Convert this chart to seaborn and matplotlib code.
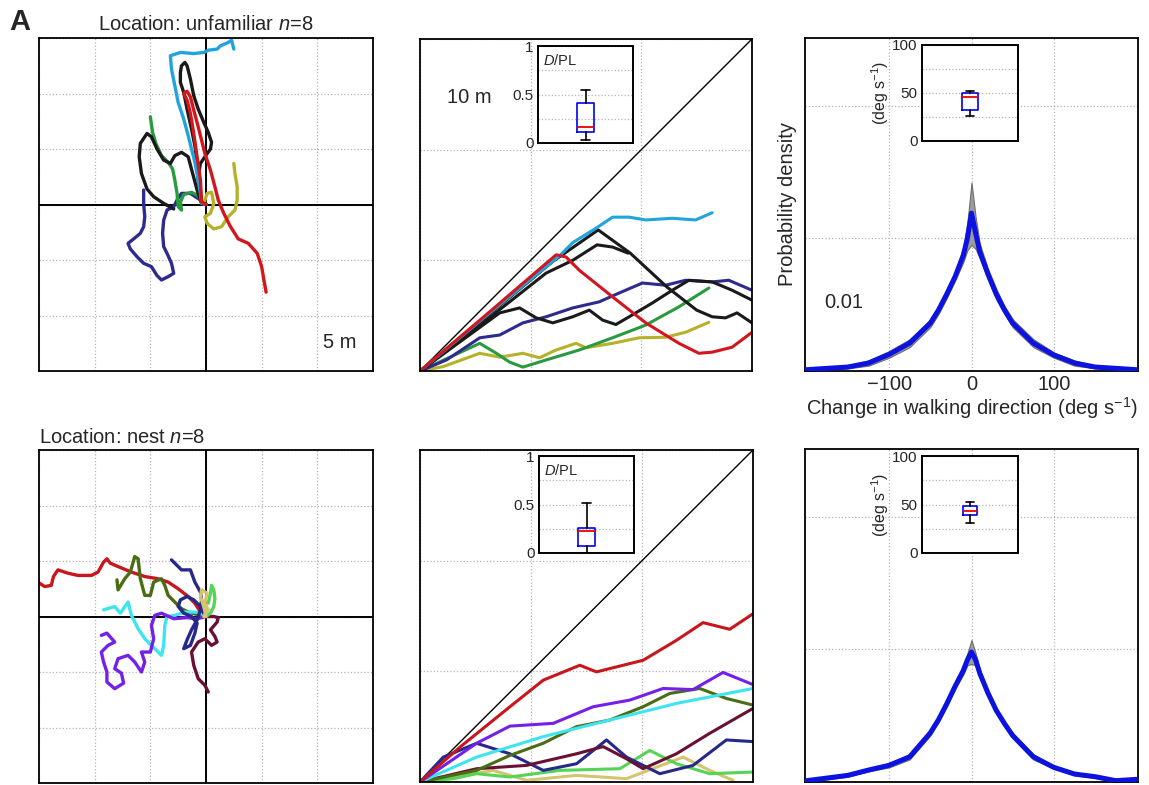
import numpy as np
import pandas as pd
import seaborn as sns
import matplotlib as mpl
import matplotlib.pyplot as plt

sns.set_style('white')
plt.rcParams['font.family'] = ['Liberation Sans', 'DejaVu Sans']
mpl.rcParams.update({'mathtext.fontset': 'custom',
                     'mathtext.rm': 'Liberation Sans',
                     'mathtext.it': 'Liberation Sans:italic',
                     'mathtext.bf': 'Liberation Sans:bold'})

# ---- trajectories, unfamiliar location (m) ----
unf_navy_x = [0, -0.5, -1.4, -2.2, -2.6, -2.9, -3.5, -3.8, -3.9, -3.8, -3.5, -3.1, -2.9, -3.4,
              -4.0, -4.4, -4.9, -5.6, -6.2, -6.8, -7.0, -6.5, -5.9, -5.6, -5.5, -5.6, -5.6]
unf_navy_y = [0, 0.4, 1.0, 1.0, 0.4, -0.2, -0.5, -1.4, -2.6, -3.8, -4.4, -5.3, -6.2, -6.5,
              -6.8, -6.4, -5.6, -5.3, -4.7, -4.0, -3.5, -3.1, -2.6, -2.0, -1.1, 0.1, 1.3]
unf_olive_x = [0, -0.2, 0.1, 0.5, 0.7, 0.4, -0.1, 0.1, 0.7, 1.4, 2.0, 2.6, 2.8, 2.8, 2.6, 2.5]
unf_olive_y = [0, 0.1, 1.0, 1.1, 0.1, -0.8, -1.1, -1.7, -2.2, -2.0, -1.1, -0.5, 0.4, 1.6, 2.8, 3.7]
unf_green_x = [0, -0.4, -0.7, -1.3, -2.0, -2.3, -2.2, -2.5, -2.6, -2.8, -3.0, -3.4, -4.0, -4.5, -4.8, -5.0]
unf_green_y = [0, 0.2, 0.8, 1.1, 0.9, 0.2, -0.5, -0.2, 1.0, 2.2, 3.2, 3.8, 4.4, 5.5, 6.5, 7.9]
unf_blackb_x = [0, -0.4, -0.8, -1.2, -1.6, -2.2, -2.8, -3.2, -3.8, -4.4, -4.9, -5.3, -5.9, -6.0,
                -5.8, -5.3, -4.7, -3.8, -2.9]
unf_blackb_y = [0, 0.1, 1.3, 2.8, 4.3, 4.7, 4.4, 3.7, 4.0, 5.0, 6.1, 6.4, 5.5, 4.3,
                2.8, 1.4, 0.7, 0.1, -0.4]
unf_blacka_x = [0, -0.4, -0.5, -0.7, -0.5, -0.1, 0.4, 0.5, 0.2, -0.2, -0.7, -1.1, -1.4, -1.7,
                -1.9, -2.2, -2.3, -2.3, -2.0, -1.7, -1.3, -1.0, -0.8, -0.7, -0.5]
unf_blacka_y = [0, 0.2, 1.3, 2.5, 3.7, 4.3, 5.0, 5.6, 6.5, 7.4, 8.6, 9.8, 11.3, 12.5,
                12.8, 12.5, 11.9, 11.0, 10.1, 8.6, 6.8, 5.3, 3.8, 2.2, 0.7]
unf_cyan_x = [0, -0.4, -0.5, -0.7, -1.0, -1.3, -1.6, -2.0, -2.5, -2.8, -3.1, -3.2, -2.3, -1.1,
              -0.2, 0.2, 1.0, 1.3, 2.0, 2.3, 2.5]
unf_cyan_y = [0, 0.1, 1.0, 2.2, 3.8, 5.0, 6.2, 7.7, 9.2, 10.7, 12.2, 13.4, 13.7, 13.6,
              13.7, 13.9, 14.0, 14.3, 14.6, 14.8, 14.0]
unf_red_x = [0, -0.4, -0.5, -0.8, -1.1, -1.4, -1.7, -2.0, -1.7, -1.4, -1.1, -0.7, -0.4, -0.1,
             0.4, 0.8, 1.1, 1.6, 2.2, 2.9, 3.8, 4.6, 5.0, 5.2, 5.4]
unf_red_y = [0, 0.2, 2.2, 4.3, 6.4, 8.2, 9.4, 10.0, 10.2, 9.7, 8.5, 7.0, 5.8, 4.6,
             3.1, 1.6, 0.4, -0.8, -2.0, -3.1, -3.5, -4.4, -5.6, -6.8, -7.9]

# ---- trajectories, nest location (m) ----
nest_red_x = [0, -0.5, -1.0, -1.6, -2.5, -3.4, -4.3, -5.5, -6.7, -7.9, -8.6, -8.9, -9.2, -9.7,
              -10.3, -11.5, -12.4, -13.3, -13.7, -13.9, -14.5, -15.1]
nest_red_y = [0, 0.4, 1.2, 1.8, 2.5, 3.1, 3.4, 3.6, 4.0, 4.5, 4.8, 5.2, 4.9, 4.0,
              3.7, 3.7, 3.9, 4.2, 3.6, 2.8, 2.7, 3.1]
nest_dgreen_x = [0, -0.5, -1.6, -2.2, -2.8, -3.4, -3.7, -4.0, -4.7, -5.0, -5.5, -5.9, -6.1, -6.4,
                 -6.8, -7.3, -7.9, -8.0]
nest_dgreen_y = [0, 0.1, 0.4, 0.7, 1.3, 1.9, 2.8, 3.4, 3.1, 1.9, 1.9, 3.4, 5.2, 5.4,
                 4.0, 3.4, 2.4, 3.3]
nest_cyan_x = [0, -0.5, -1.0, -1.9, -2.8, -3.5, -3.7, -3.8, -4.0, -4.9, -5.5, -6.1, -6.7, -7.0,
               -7.7, -8.2, -9.2]
nest_cyan_y = [0, 0.3, 0.4, 0.4, 0.1, 0.0, -0.8, -2.6, -3.5, -2.6, -2.0, -1.1, 0.1, 1.3,
               0.3, 0.9, 0.6]
nest_purple_x = [0, -0.8, -1.7, -2.9, -4.0, -4.6, -4.9, -4.7, -5.0, -5.8, -5.5, -5.8, -6.4, -7.0,
                 -7.9, -8.2, -7.6, -7.4, -8.2, -8.9, -8.9, -9.2, -9.4, -8.8, -8.2, -8.9, -9.4]
nest_purple_y = [0, -0.2, -0.1, -0.2, 0.3, 0.1, -0.8, -2.0, -3.2, -3.2, -4.1, -5.0, -4.1, -3.5,
                 -3.8, -4.7, -5.1, -6.0, -6.5, -5.9, -5.0, -4.1, -3.2, -2.6, -2.3, -1.5, -1.7]
nest_navy_x = [0, -0.2, -0.5, -1.1, -1.7, -2.3, -2.5, -2.0, -1.3, -0.8, -1.0, -1.4, -2.0, -1.7,
               -1.3, -0.8, -0.5, -0.4, -0.5, -1.0, -1.4, -2.2, -3.1]
nest_navy_y = [0, 0.3, 0.9, 1.5, 1.8, 1.5, 0.9, 0.3, 0.0, -0.6, -1.5, -2.6, -2.9, -2.1,
               -1.2, -0.3, 0.6, 1.5, 2.2, 3.1, 4.2, 4.2, 5.1]
nest_maroon_x = [0, 0.7, 1.1, 1.0, 0.4, 0.8, 1.0, 0.5, -0.1, -0.7, -1.3, -1.1, -0.7, -0.1, 0.2]
nest_maroon_y = [0, 0.0, -0.1, -0.5, -1.2, -1.8, -2.3, -2.6, -2.0, -2.3, -3.2, -4.4, -5.6, -6.2, -6.8]
nest_lgreen_x = [0, 0.4, 0.7, 0.8, 0.7, 0.5, 0.4, 0.2]
nest_lgreen_y = [0, 0.3, 0.9, 1.6, 2.4, 2.8, 2.1, 1.2]
nest_tan_x = [0, -0.2, -0.5, -0.4, 0.1, -0.1, 0.2, -0.2]
nest_tan_y = [0, 0.9, 1.8, 2.4, 2.1, 1.2, 0.6, 0.0]

# ---- distance from origin vs path length (m), unfamiliar ----
unf_pl_olive = [0, 2.1, 5.4, 7.2, 9.3, 10.8, 12.3, 14.1, 15.0, 17.4, 19.8, 22.2, 24.0, 26.1]
unf_d_olive = [0, 0.4, 1.6, 1.25, 1.6, 1.2, 1.9, 2.5, 2.1, 2.5, 3.0, 3.05, 3.5, 4.4]
unf_pl_green = [0, 5.4, 6.9, 8.1, 9.3, 11.4, 14.4, 17.4, 20.4, 23.4, 26.1]
unf_d_green = [0, 2.5, 1.6, 0.8, 0.35, 1.0, 1.9, 3.0, 4.15, 5.8, 7.5]
unf_pl_navy = [0, 2.4, 5.4, 7.2, 9.3, 11.4, 13.8, 16.2, 18.0, 20.1, 22.2, 24.0, 26.4, 27.9, 30]
unf_d_navy = [0, 1.0, 3.0, 3.25, 4.35, 4.9, 5.7, 6.25, 7.05, 7.95, 7.75, 8.2, 8.05, 8.2, 7.3]
unf_pl_black3 = [0, 7.2, 9.0, 10.5, 12.0, 13.8, 15.3, 16.5, 17.7, 18.9, 21.0, 22.8, 24.3, 26.4, 28.2, 30]
unf_d_black3 = [0, 5.25, 5.7, 4.8, 4.35, 4.9, 5.5, 4.6, 4.2, 4.9, 6.15, 7.3, 8.2, 8.05, 7.3, 6.4]
unf_pl_black2 = [0, 6.0, 11.4, 13.8, 16.0, 17.4, 18.8]
unf_d_black2 = [0, 4.6, 8.85, 10.0, 11.4, 11.2, 10.65]
unf_pl_black1 = [0, 6.0, 12.0, 16.1, 19.0, 22.3, 25.0, 26.4, 27.6, 28.65, 30]
unf_d_black1 = [0, 4.9, 9.9, 12.75, 10.65, 7.6, 5.5, 4.9, 4.8, 5.25, 4.35]
unf_pl_cyan = [0, 6.0, 12.6, 13.8, 15.9, 17.4, 18.9, 20.4, 22.8, 24.9, 26.4]
unf_d_cyan = [0, 5.0, 10.4, 11.6, 12.9, 13.9, 13.9, 13.65, 13.8, 13.65, 14.3]
unf_pl_red = [0, 6.0, 12.3, 13.2, 14.4, 17.4, 20.4, 23.4, 25.2, 26.4, 28.2, 30]
unf_d_red = [0, 5.1, 10.5, 10.3, 9.1, 6.7, 4.35, 2.5, 1.6, 1.7, 2.15, 3.5]

# ---- distance from origin vs path length (m), nest ----
nest_pl_red = [0, 3.6, 8.1, 11.1, 14.4, 15.9, 17.7, 20.1, 23.1, 25.5, 27.9, 30]
nest_d_red = [0, 3.15, 6.8, 9.2, 10.55, 9.95, 10.4, 11.0, 12.8, 14.4, 13.8, 15.2]
nest_pl_purple = [0, 5.1, 8.1, 12.0, 15.6, 18.9, 21.9, 24.6, 27.3, 30]
nest_d_purple = [0, 3.5, 5.05, 5.3, 6.8, 7.4, 8.45, 8.35, 9.9, 8.8]
nest_pl_cyan = [0, 5.1, 11.1, 17.1, 23.1, 30]
nest_d_cyan = [0, 2.25, 4.1, 5.6, 7.1, 8.45]
nest_pl_dgreen = [0, 5.1, 8.1, 11.1, 14.1, 17.1, 20.1, 22.5, 25.2, 27.6, 30]
nest_d_dgreen = [0, 1.05, 2.4, 3.5, 5.0, 5.6, 6.8, 8.0, 8.45, 7.55, 6.95]
nest_pl_maroon = [0, 5.1, 9.6, 14.1, 16.5, 18.6, 20.1, 23.1, 26.1, 30]
nest_d_maroon = [0, 1.2, 1.5, 2.55, 3.2, 2.1, 1.2, 2.55, 4.4, 6.65]
nest_pl_navy = [0, 2.1, 5.1, 8.1, 11.1, 14.1, 16.8, 18.6, 21.6, 24.6, 27.6, 30]
nest_d_navy = [0, 2.25, 3.5, 2.55, 1.05, 1.65, 3.8, 2.25, 0.75, 1.5, 3.8, 3.65]
nest_pl_lgreen = [0, 3.0, 5.1, 8.1, 12.6, 18.0, 20.7, 23.1, 26.1, 30]
nest_d_lgreen = [0, 0.3, 0.75, 0.45, 1.05, 1.2, 2.85, 1.65, 0.75, 0.9]
nest_pl_tan = [0, 3.0, 6.6, 9.6, 14.1, 18.6, 23.7, 26.1, 28.2]
nest_d_tan = [0, 0.45, 1.05, 0.15, 0.6, 0.3, 2.25, 1.05, 0.15]

# ---- turning-rate density (deg/s) ----
turn_deg = [-200, -175, -150, -125, -100, -75, -50, -40, -30, -20, -10, -5, 0,
            5, 10, 20, 30, 40, 50, 75, 100, 125, 150, 175, 200]
unf_dens = [0.0001, 0.0002, 0.0003, 0.0006, 0.00125, 0.0021, 0.0036, 0.0046, 0.0058, 0.0071,
            0.0087, 0.0100, 0.0119, 0.0104, 0.0090, 0.0073, 0.0058, 0.0046, 0.0036, 0.0021,
            0.0012, 0.0006, 0.0003, 0.0002, 0.0001]
unf_dens_hi = [0.0002, 0.0003, 0.0004, 0.0008, 0.0015, 0.0024, 0.0039, 0.0049, 0.0061, 0.0075,
               0.0093, 0.0112, 0.0142, 0.0116, 0.0096, 0.0077, 0.0062, 0.0049, 0.0039, 0.0024,
               0.0014, 0.0008, 0.0004, 0.0003, 0.0002]
unf_dens_lo = [0.0000, 0.0001, 0.0002, 0.0004, 0.0010, 0.0018, 0.0033, 0.0043, 0.0055, 0.0068,
               0.0082, 0.0091, 0.0095, 0.0092, 0.0085, 0.0069, 0.0054, 0.0043, 0.0033, 0.0018,
               0.0010, 0.0004, 0.0002, 0.0001, 0.0000]
nest_dens = [0.0001, 0.0003, 0.0005, 0.0009, 0.00126, 0.0019, 0.0037, 0.0047, 0.0059, 0.0072,
             0.0084, 0.0092, 0.0098, 0.0092, 0.0082, 0.0067, 0.0054, 0.0044, 0.0035, 0.0019,
             0.0011, 0.0006, 0.0004, 0.0001, 0.0002]
nest_dens_hi = [0.0002, 0.0004, 0.0006, 0.0010, 0.0014, 0.0021, 0.0039, 0.0049, 0.0061, 0.0074,
                0.0087, 0.0097, 0.0107, 0.0097, 0.0085, 0.0069, 0.0056, 0.0046, 0.0037, 0.0021,
                0.0012, 0.0007, 0.0005, 0.0002, 0.0003]
nest_dens_lo = [0.0000, 0.0002, 0.0004, 0.0008, 0.0011, 0.0017, 0.0035, 0.0045, 0.0057, 0.0070,
                0.0081, 0.0088, 0.0089, 0.0088, 0.0079, 0.0065, 0.0052, 0.0042, 0.0033, 0.0017,
                0.0010, 0.0005, 0.0003, 0.0000, 0.0001]

# ---- inset box summaries: whislo, q1, med, q3, whishi ----
unf_dpl_box = [0.035, 0.11, 0.167, 0.41, 0.545]
nest_dpl_box = [0.0, 0.076, 0.231, 0.259, 0.517]
unf_turn_box = [25.7, 32.3, 46.2, 50.0, 52.4]
nest_turn_box = [30.5, 38.8, 43.3, 48.1, 52.4]

UNF_COLORS = {'navy': '#2e2a8e', 'olive': '#b7b12a', 'green': '#2a9a40', 'black3': '#1a1a1a',
              'black2': '#1a1a1a', 'black1': '#1a1a1a', 'cyan': '#20a4dd', 'red': '#d2161e'}
NEST_COLORS = {'red': '#c8161c', 'dgreen': '#4a6c14', 'cyan': '#3ee4f0', 'purple': '#7420e8',
               'navy': '#26288a', 'maroon': '#6a1034', 'lgreen': '#55d455', 'tan': '#d4c470'}

GRID = dict(color='#b4b4b4', linestyle=':', linewidth=0.9)
FS = 14.5


def frame(ax, lw=1.3):
    for sp in ax.spines.values():
        sp.set_visible(True)
        sp.set_edgecolor('black')
        sp.set_linewidth(lw)


def draw_tracks(ax, tracks, colors, lw):
    df = pd.concat([pd.DataFrame({'x': xs, 'y': ys, 'track': name})
                    for name, xs, ys in tracks], ignore_index=True)
    sns.lineplot(data=df, x='x', y='y', hue='track', hue_order=[t[0] for t in tracks],
                 palette=colors, sort=False, estimator=None, linewidth=lw, legend=False,
                 ax=ax, solid_joinstyle='round', solid_capstyle='round')
    ax.set_xlabel('')
    ax.set_ylabel('')


def map_axes(ax):
    ax.set_xlim(-15, 15)
    ax.set_ylim(-15, 15)
    ax.set_xticks(np.arange(-15, 16, 5))
    ax.set_yticks(np.arange(-15, 16, 5))
    ax.tick_params(length=0, labelbottom=False, labelleft=False)
    ax.grid(True, **GRID)
    ax.set_axisbelow(True)
    ax.axhline(0, color='black', lw=1.4, zorder=1.5)
    ax.axvline(0, color='black', lw=1.4, zorder=1.5)
    frame(ax)


def dist_axes(ax):
    ax.set_xlim(0, 30)
    ax.set_ylim(0, 30)
    ax.set_xticks([0, 10, 20, 30])
    ax.set_yticks([0, 10, 20, 30])
    ax.tick_params(length=0, labelbottom=False, labelleft=False)
    ax.grid(True, **GRID)
    ax.set_axisbelow(True)
    ax.axline((0, 0), slope=1, color='black', lw=1.0, zorder=1.8)
    frame(ax)


def dens_axes(ax, deg, mean, lo, hi, labels):
    ax.fill_between(deg, lo, hi, color='#9c9c9c', edgecolor='#6e6e6e', lw=0.8, zorder=2)
    sns.lineplot(x=deg, y=mean, color='#0c12e0', linewidth=3.6, ax=ax, zorder=3,
                 solid_joinstyle='round')
    ax.set_xlim(-202, 202)
    ax.set_ylim(0, 0.0251)
    ax.set_xticks([-100, 0, 100])
    ax.set_yticks([0.01, 0.02])
    ax.tick_params(length=0, labelleft=False, labelbottom=labels, labelsize=FS, pad=3)
    ax.grid(True, **GRID)
    ax.set_axisbelow(True)
    frame(ax)


def inset_box(rect, vals, ymax, ticklabels, ylabel=None, text=None, width=0.17):
    ins = fig.add_axes(rect)
    stats = dict(whislo=vals[0], q1=vals[1], med=vals[2], q3=vals[3], whishi=vals[4])
    ins.bxp([stats], positions=[1], widths=width, showfliers=False,
            boxprops=dict(color='#0000ee', lw=1.2),
            medianprops=dict(color='#ee0000', lw=1.3),
            whiskerprops=dict(color='black', lw=1.2),
            capprops=dict(color='black', lw=1.2), capwidths=0.09)
    ins.set_xlim(0.5, 1.5)
    ins.set_ylim(0, ymax)
    ins.set_xticks([])
    ins.set_yticks(np.linspace(0, ymax, 5))
    ins.set_yticklabels(ticklabels)
    ins.tick_params(axis='y', length=0, labelsize=11, pad=3)
    ins.grid(True, axis='y', **GRID)
    ins.set_axisbelow(True)
    ins.set_facecolor('white')
    frame(ins, 1.4)
    if ylabel:
        ins.set_ylabel(ylabel, fontsize=11.5, labelpad=1)
    if text:
        ins.text(0.05, 0.85, text, transform=ins.transAxes, fontsize=10.5,
                 ha='left', va='center')
    return ins


W, H = 1149, 785
fig = plt.figure(figsize=(W / 100, H / 100), dpi=100)


def rect(x0, y0, x1, y1):
    return [x0 / W, 1 - y1 / H, (x1 - x0) / W, (y1 - y0) / H]


ax_map_u = fig.add_axes(rect(39, 38, 373, 371))
ax_map_n = fig.add_axes(rect(39, 450, 373, 783))
ax_dist_u = fig.add_axes(rect(420, 39, 752, 371))
ax_dist_n = fig.add_axes(rect(420, 450, 753, 782))
ax_dens_u = fig.add_axes(rect(805, 38, 1138, 371))
ax_dens_n = fig.add_axes(rect(805, 449, 1138, 782))

# maps
map_axes(ax_map_u)
draw_tracks(ax_map_u, [('navy', unf_navy_x, unf_navy_y), ('olive', unf_olive_x, unf_olive_y),
                       ('green', unf_green_x, unf_green_y), ('black2', unf_blackb_x, unf_blackb_y),
                       ('black1', unf_blacka_x, unf_blacka_y), ('cyan', unf_cyan_x, unf_cyan_y),
                       ('red', unf_red_x, unf_red_y)], UNF_COLORS, 2.4)
ax_map_u.set_title('Location: unfamiliar $n$=8', fontsize=FS, pad=6)
ax_map_u.text(0.9, 0.085, '5 m', transform=ax_map_u.transAxes, fontsize=FS,
              ha='center', va='center')

map_axes(ax_map_n)
draw_tracks(ax_map_n, [('red', nest_red_x, nest_red_y), ('dgreen', nest_dgreen_x, nest_dgreen_y),
                       ('cyan', nest_cyan_x, nest_cyan_y), ('purple', nest_purple_x, nest_purple_y),
                       ('navy', nest_navy_x, nest_navy_y), ('maroon', nest_maroon_x, nest_maroon_y),
                       ('lgreen', nest_lgreen_x, nest_lgreen_y), ('tan', nest_tan_x, nest_tan_y)],
            NEST_COLORS, 2.4)
ax_map_n.set_title('Location: nest $n$=8', fontsize=FS, pad=5, loc='left')

# distance vs path length
dist_axes(ax_dist_u)
draw_tracks(ax_dist_u, [('olive', unf_pl_olive, unf_d_olive), ('green', unf_pl_green, unf_d_green),
                        ('navy', unf_pl_navy, unf_d_navy), ('black3', unf_pl_black3, unf_d_black3),
                        ('black2', unf_pl_black2, unf_d_black2), ('black1', unf_pl_black1, unf_d_black1),
                        ('cyan', unf_pl_cyan, unf_d_cyan), ('red', unf_pl_red, unf_d_red)],
            UNF_COLORS, 2.2)
ax_dist_u.set_xlabel('Path length (m)', fontsize=FS, labelpad=4)
ax_dist_u.set_ylabel('Distance from origin (m)', fontsize=FS, labelpad=4)
ax_dist_u.text(0.15, 0.825, '10 m', transform=ax_dist_u.transAxes, fontsize=FS,
               ha='center', va='center')

dist_axes(ax_dist_n)
draw_tracks(ax_dist_n, [('tan', nest_pl_tan, nest_d_tan), ('lgreen', nest_pl_lgreen, nest_d_lgreen),
                        ('navy', nest_pl_navy, nest_d_navy), ('maroon', nest_pl_maroon, nest_d_maroon),
                        ('dgreen', nest_pl_dgreen, nest_d_dgreen), ('cyan', nest_pl_cyan, nest_d_cyan),
                        ('purple', nest_pl_purple, nest_d_purple), ('red', nest_pl_red, nest_d_red)],
            NEST_COLORS, 2.2)

# turning density
dens_axes(ax_dens_u, turn_deg, unf_dens, unf_dens_lo, unf_dens_hi, True)
ax_dens_u.set_xlabel('Change in walking direction (deg s$^{-1}$)', fontsize=FS, labelpad=1)
ax_dens_u.set_ylabel('Probability density', fontsize=FS, labelpad=6)
ax_dens_u.text(0.115, 0.207, '0.01', transform=ax_dens_u.transAxes, fontsize=FS,
               ha='center', va='center')
dens_axes(ax_dens_n, turn_deg, nest_dens, nest_dens_lo, nest_dens_hi, False)

# insets
dpl_labels = ['0', '', '0.5', '', '1']
turn_labels = ['0', '', '50', '', '100']
inset_box(rect(538, 46, 633, 143), unf_dpl_box, 1, dpl_labels, text='$D$/PL')
inset_box(rect(539, 456, 634, 553), nest_dpl_box, 1, dpl_labels, text='$D$/PL')
inset_box(rect(922, 45, 1018, 141), unf_turn_box, 100, turn_labels, ylabel='(deg s$^{-1}$)')
inset_box(rect(922, 456, 1018, 553), nest_turn_box, 100, turn_labels, ylabel='(deg s$^{-1}$)',
          width=0.14)

fig.text(0.008, 0.972, 'A', fontsize=21, fontweight='bold', va='center', ha='left')

fig.savefig('out.png', dpi=100)
